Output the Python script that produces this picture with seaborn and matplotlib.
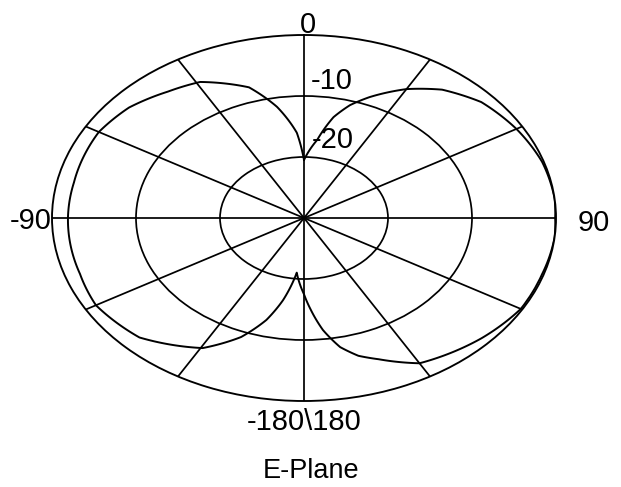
import numpy as np
import pandas as pd
import matplotlib
matplotlib.use("Agg")
import matplotlib.pyplot as plt
import seaborn as sns

# E-plane pattern (degrees clockwise from top, dB)
angle_deg = [0, 7, 12, 16.5, 21.5, 30, 38, 48, 60, 72, 84, 90, 96, 108, 120,
             133, 150, 159, 164, 168.5, 173, 177, 180, 185.5, 190.5, 195, 201,
             209.5, 225, 240, 251, 270, 282, 300, 311, 322, 331, 343, 350,
             356.5, 360]
gain_db = [-20.5, -17.1, -13.1, -10.7, -8.7, -5.6, -3.3, -1.6, -0.8, -0.2, 0.0,
           -0.1, 0.0, -0.2, -0.2, -1.1, -2.5, -5.2, -6.5, -8.4, -11.5, -15.0,
           -17.5, -21.0, -16.3, -12.7, -9.1, -5.5, -2.3, -1.4, -1.8, -1.9,
           -2.0, -1.8, -2.4, -3.7, -4.5, -7.6, -11.5, -16.0, -20.5]

ring_db = [-20, -10]
spoke_deg = list(range(0, 360, 30))
r_min, r_max = -30, 0

tick_text = ["0", "-10", "-20", "-90", "90", "-180\\180"]
title_text = "E-Plane"

W, H = 621, 487


def px(x, y):
    # pixel position -> figure fraction
    return x / W, 1 - y / H


sns.set_theme(style="white")
plt.rcParams['font.family'] = ['Liberation Sans', 'DejaVu Sans']

fig = plt.figure(figsize=(W / 100, H / 100), dpi=100)
ax = fig.add_axes([52 / W, 86 / H, 504 / W, 366 / H], projection='polar')
ax.set_theta_zero_location('N')
ax.set_theta_direction(-1)

df = pd.DataFrame({'theta': np.deg2rad(angle_deg), 'gain': gain_db})
sns.lineplot(data=df, x='theta', y='gain', sort=False, estimator=None,
             color='black', linewidth=1.4, ax=ax)
# draw segments as arcs in polar space, not straight chords
for line in ax.lines:
    line.get_path()._interpolation_steps = 40

ax.set_ylim(r_min, r_max)
ax.set_aspect('auto')
ax.set_thetagrids(spoke_deg, labels=[''] * len(spoke_deg))
ax.set_rgrids(ring_db, labels=[''] * len(ring_db))
ax.grid(True, color='black', linewidth=1.25)
ax.spines['polar'].set_color('black')
ax.spines['polar'].set_linewidth(1.35)
ax.set_xlabel('')
ax.set_ylabel('')

# tick labels placed like the original
fs = 21
kw = dict(va='baseline', fontsize=fs, color='black')
fig.text(*px(307.5, 33), tick_text[0], ha='center', **kw)
fig.text(*px(311, 89), tick_text[1], ha='left', **kw)
fig.text(*px(312, 148), tick_text[2], ha='left', **kw)
fig.text(*px(52, 229), tick_text[3], ha='right', **kw)
fig.text(*px(578, 231), tick_text[4], ha='left', **kw)
fig.text(*px(304, 430), tick_text[5], ha='center', **kw)
fig.text(*px(311, 478), title_text, ha='center', va='baseline',
         fontsize=19.5, color='black')

fig.savefig("out.png", dpi=100, facecolor='white')
plt.close(fig)
